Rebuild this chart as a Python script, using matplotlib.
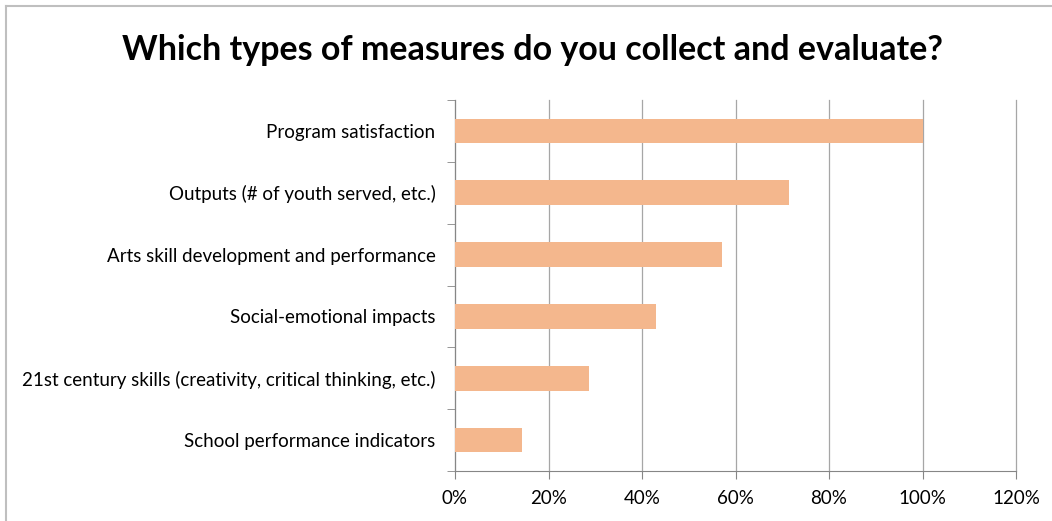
import matplotlib.pyplot as plt
from matplotlib.lines import Line2D
from matplotlib.ticker import FixedLocator, PercentFormatter

plt.rcParams['font.family'] = ['Lato', 'DejaVu Sans']

measures = [
    "Program satisfaction",
    "Outputs (# of youth served, etc.)",
    "Arts skill development and performance",
    "Social-emotional impacts",
    "21st century skills (creativity, critical thinking, etc.)",
    "School performance indicators",
]
shares = [100.0, 71.4, 57.1, 42.9, 28.6, 14.3]
xticks = [0, 20, 40, 60, 80, 100, 120]

fig = plt.figure(figsize=(10.52, 5.21), dpi=100)
ax = fig.add_axes([455 / 1052, 1 - 471 / 521, 561 / 1052, 371 / 521])

pos = list(range(len(measures)))[::-1]
ax.barh(pos, shares, height=0.4, color="#F4B78D", zorder=3)

ax.set_xlim(0, 120)
ax.set_ylim(-0.5, len(measures) - 0.5)
ax.set_xticks(xticks)
ax.xaxis.set_major_formatter(PercentFormatter(decimals=0))
ax.grid(axis="x", color="#A6A6A6", linewidth=0.9, zorder=0)
for gl in ax.get_xgridlines():
    gl.set_clip_on(False)

# labels sit on category centres, tick marks on the boundaries between them
ax.set_yticks(pos)
ax.set_yticklabels(measures)
ax.yaxis.set_minor_locator(FixedLocator([p - 0.5 for p in range(len(measures) + 1)]))
ax.tick_params(axis="y", which="major", length=0, pad=14, labelsize=13.5)
ax.tick_params(axis="y", which="minor", length=6, color="#868686")
ax.tick_params(axis="x", length=6, color="#868686", labelsize=13.5, pad=8)

for side in ("top", "right"):
    ax.spines[side].set_visible(False)
for side in ("left", "bottom"):
    ax.spines[side].set_color("#868686")

fig.text(533 / 1052, 1 - 50 / 521, "Which types of measures do you collect and evaluate?",
         ha="center", va="center", fontsize=24.5, fontweight="bold")

# chart-area frame
fig.add_artist(Line2D([6 / 1052, 1.0], [1 - 6 / 521] * 2, color="#BFBFBF", linewidth=1.5))
fig.add_artist(Line2D([6 / 1052] * 2, [0.0, 1 - 6 / 521], color="#BFBFBF", linewidth=1.5))

fig.savefig("out.png", dpi=100)
